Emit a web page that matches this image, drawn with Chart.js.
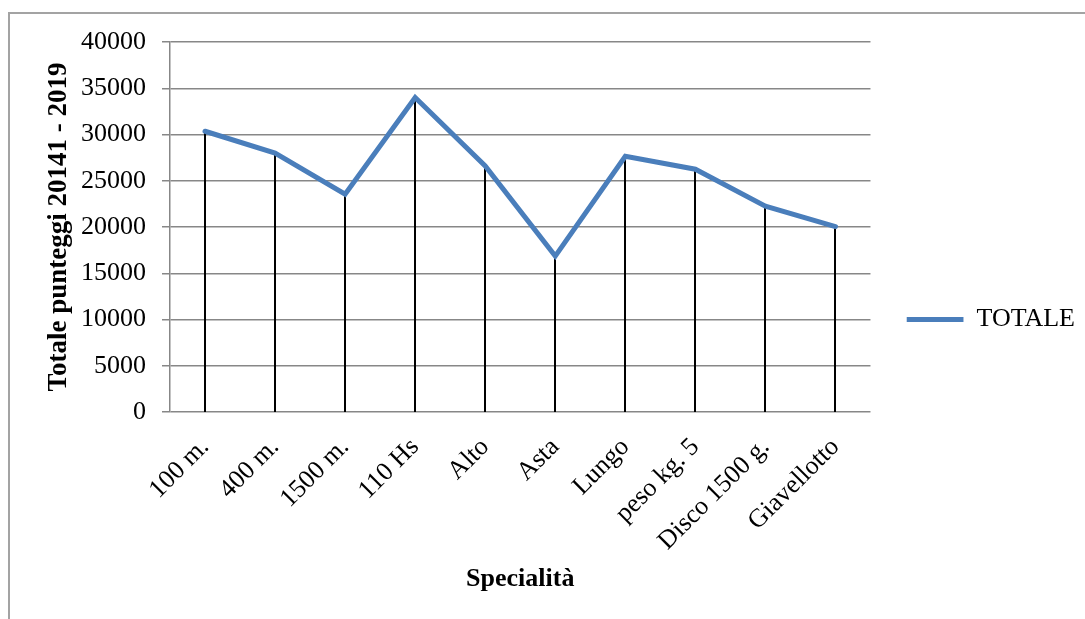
<!DOCTYPE html>
<html>
<head>
<meta charset="utf-8">
<script src="https://cdn.jsdelivr.net/npm/chart.js@4.4.1/dist/chart.umd.min.js"></script>
<style>
	html, body { margin: 0; padding: 0; background: #fff; }
	#wrap { position: relative; width: 1085px; height: 619px; overflow: hidden; }
	#frame { position: absolute; left: 8px; top: 12px; width: 1200px; height: 700px; border-left: 2px solid #a3a3a3; border-top: 2px solid #a3a3a3; }
	#chart { position: absolute; left: 0; top: 0; }
</style>
</head>
<body>
<div id="wrap">
	<div id="frame"></div>
	<canvas id="chart" width="1085" height="619"></canvas>
</div>
<script>
var categorie = ['100 m.', '400 m.', '1500 m.', '110 Hs', 'Alto', 'Asta', 'Lungo', 'peso kg. 5', 'Disco 1500 g.', 'Giavellotto'];
var totale = [30350, 28000, 23550, 34000, 26600, 16850, 27650, 26250, 22250, 20050];
var yMin = 0;
var yMax = 40000;
var yStep = 5000;

var FONT = "'Liberation Serif', 'Times New Roman', serif";
var GRID = '#878787';

// linee verticali nere dal punto fino all'asse (drop lines)
var dropLines = {
	id: 'dropLines',
	beforeDatasetsDraw: function (chart) {
		var meta = chart.getDatasetMeta(0);
		var y0 = chart.scales.y.getPixelForValue(0);
		var ctx = chart.ctx;
		ctx.save();
		ctx.strokeStyle = '#000';
		ctx.lineWidth = 2;
		meta.data.forEach(function (pt) {
			ctx.beginPath();
			ctx.moveTo(Math.round(pt.x), pt.y);
			ctx.lineTo(Math.round(pt.x), y0);
			ctx.stroke();
		});
		ctx.restore();
	}
};

// sposta la legenda un po' a destra, come nel grafico originale
var legendShift = {
	id: 'legendShift',
	afterLayout: function (chart) {
		var lg = chart.legend;
		if (!lg) return;
		lg.left += 36; lg.right += 36;
		lg.top -= 11; lg.bottom -= 11;
	}
};

new Chart(document.getElementById('chart'), {
	type: 'line',
	data: {
		labels: categorie,
		datasets: [{
			label: 'TOTALE',
			data: totale,
			borderColor: '#4A7EBB',
			backgroundColor: '#4A7EBB',
			borderWidth: 5,
			pointRadius: 0,
			pointHoverRadius: 0,
			tension: 0,
			fill: false,
			borderCapStyle: 'round'
		}]
	},
	options: {
		responsive: false,
		animation: false,
		devicePixelRatio: 1,
		layout: { padding: { left: 0, top: 42, right: 36, bottom: 0 } },
		plugins: {
			legend: {
				position: 'right',
				labels: {
					color: '#000',
					font: { family: FONT, size: 26 },
					boxWidth: 57,
					padding: 0,
					usePointStyle: true,
					pointStyle: 'line',
					pointStyleWidth: 57
				}
			},
			tooltip: { enabled: false }
		},
		scales: {
			x: {
				offset: true,
				grid: { display: false, drawTicks: false },
				border: { display: false },
				ticks: {
					color: '#000',
					font: { family: FONT, size: 26 },
					minRotation: 45,
					maxRotation: 45,
					padding: 20,
					autoSkip: false
				},
				title: {
					display: true,
					text: 'Specialità',
					color: '#000',
					font: { family: FONT, size: 26, weight: 'bold' },
					padding: { top: 0, bottom: 24 }
				},
				afterFit: function (s) { s.height = 207; }
			},
			y: {
				min: yMin,
				max: yMax,
				grid: { color: GRID, lineWidth: 1.5, tickLength: 8, tickColor: GRID },
				border: { display: true, color: GRID, width: 1.5 },
				ticks: {
					stepSize: yStep,
					color: '#000',
					font: { family: FONT, size: 26 },
					padding: 16,
					callback: function (v) { return String(v); }
				},
				title: {
					display: true,
					text: 'Totale punteggi 20141 - 2019',
					color: '#000',
					font: { family: FONT, size: 27, weight: 'bold' },
					padding: { top: 43, bottom: 0 }
				},
				afterFit: function (s) { s.width = 170; }
			}
		}
	},
	plugins: [dropLines, legendShift]
});
</script>
</body>
</html>
